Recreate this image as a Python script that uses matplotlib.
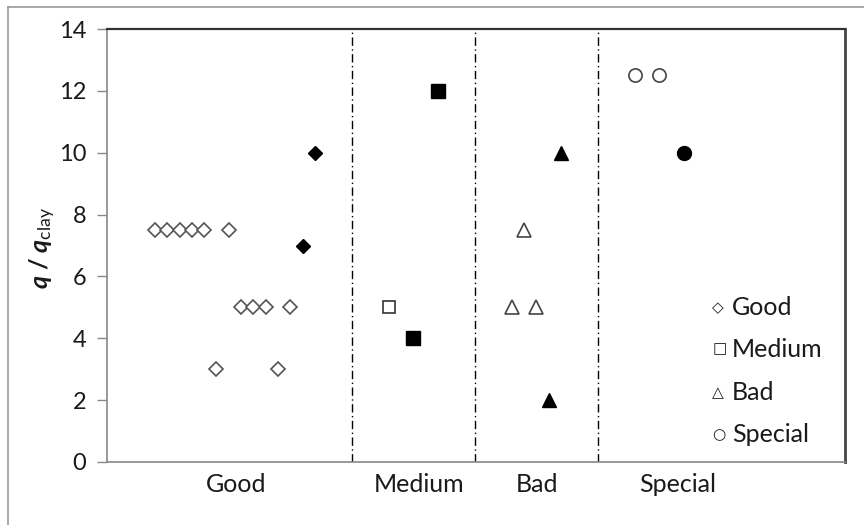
import matplotlib
matplotlib.use("Agg")
import matplotlib.pyplot as plt
from matplotlib.lines import Line2D

plt.rcParams['font.family'] = ['Lato', 'DejaVu Sans']
plt.rcParams['mathtext.fontset'] = 'custom'
plt.rcParams['mathtext.it'] = 'Lato:italic:bold'
plt.rcParams['mathtext.rm'] = 'Lato'

# ---- data ----
categories = ["Good", "Medium", "Bad", "Special"]
cat_label_x = [7.6, 22.5, 32.1, 43.5]
separators = [17, 27, 37]

good_open_x = [1, 2, 3, 4, 5, 6, 7, 8, 9, 10, 11, 12]
good_open_y = [7.5, 7.5, 7.5, 7.5, 7.5, 3, 7.5, 5, 5, 5, 3, 5]
good_fill_x = [13, 14]
good_fill_y = [7, 10]

medium_open_x = [20]
medium_open_y = [5]
medium_fill_x = [22, 24]
medium_fill_y = [4, 12]

bad_open_x = [30, 31, 32]
bad_open_y = [5, 7.5, 5]
bad_fill_x = [33, 34]
bad_fill_y = [2, 10]

special_open_x = [40, 42]
special_open_y = [12.5, 12.5]
special_fill_x = [44]
special_fill_y = [10]

legend_symbols = ["\u25c7", "\u25a1", "\u25b3", "\u25cb"]
legend_names = ["Good", "Medium", "Bad", "Special"]
legend_y = [5.0, 3.65, 2.25, 0.88]

yticks = [0, 2, 4, 6, 8, 10, 12, 14]

# ---- figure ----
fig = plt.figure(figsize=(8.64, 5.25), dpi=100)
W, H = 864, 525
L, R, T, B = 107, 845, 29, 462
ax = fig.add_axes([L / W, 1 - B / H, (R - L) / W, (B - T) / H])

ax.set_xlim(-2.9, 57.1)
ax.set_ylim(0, 14)

for s in separators:
    ax.axvline(s, color='black', lw=1.0, linestyle=(0, (6, 2.5, 1, 2.5)), zorder=1)

open_kw = dict(linestyle='none', markerfacecolor='white', markeredgewidth=1.2, zorder=3)
fill_kw = dict(linestyle='none', color='black', zorder=3)

ax.plot(good_open_x, good_open_y, marker='D', ms=7.0, markeredgecolor='#555555', **open_kw)
ax.plot(good_fill_x, good_fill_y, marker='D', ms=7.0, **fill_kw)
ax.plot(medium_open_x, medium_open_y, marker='s', ms=9.0, markeredgecolor='#333333', **open_kw)
ax.plot(medium_fill_x, medium_fill_y, marker='s', ms=9.5, **fill_kw)
ax.plot(bad_open_x, bad_open_y, marker='^', ms=10.0, markeredgecolor='#444444', **open_kw)
ax.plot(bad_fill_x, bad_fill_y, marker='^', ms=10.5, **fill_kw)
ax.plot(special_open_x, special_open_y, marker='o', ms=9.5, markeredgecolor='#444444', **open_kw)
ax.plot(special_fill_x, special_fill_y, marker='o', ms=10.0, **fill_kw)

# axes styling
ax.set_yticks(yticks)
ax.set_yticklabels([str(v) for v in yticks], fontsize=17, color='#1a1a1a')
ax.set_xticks([])
ax.tick_params(axis='y', direction='out', length=7, width=1, color='#888888', pad=8)
ax.spines['left'].set_color('#888888')
ax.spines['left'].set_linewidth(1.2)
ax.spines['bottom'].set_color('#888888')
ax.spines['bottom'].set_linewidth(1.2)
ax.spines['top'].set_color('#333333')
ax.spines['top'].set_linewidth(1.6)
ax.spines['right'].set_color('#444444')
ax.spines['right'].set_linewidth(2.0)

for cx, name in zip(cat_label_x, categories):
    ax.text(cx, -0.72, name, ha='center', va='center', fontsize=18, color='#1a1a1a')

for ly, sym, name in zip(legend_y, legend_symbols, legend_names):
    ax.text(46.3, ly, sym, ha='left', va='center', fontsize=11, color='#1a1a1a',
            family=['DejaVu Sans'])
    ax.text(47.9, ly, name, ha='left', va='center', fontsize=18, color='#1a1a1a')

fig.text(43 / W, 1 - 248 / H, r'$q$ / $q_{\mathrm{clay}}$', rotation=90,
         ha='center', va='center', fontsize=18, fontweight='bold', color='#1a1a1a')

# outer frame lines (left and top)
fig.add_artist(Line2D([8 / W, 8 / W], [0, 1 - 7 / H], color='#999999', lw=1.2))
fig.add_artist(Line2D([8 / W, 1], [1 - 7 / H, 1 - 7 / H], color='#999999', lw=1.2))

fig.savefig("out.png", dpi=100)
